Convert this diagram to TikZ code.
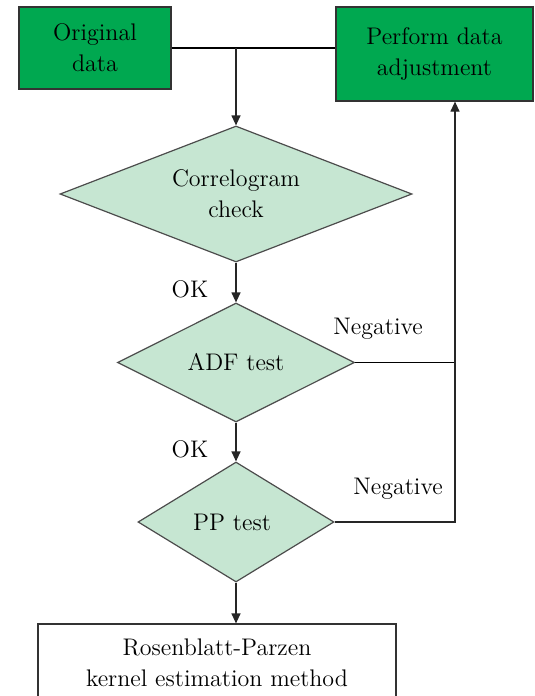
\documentclass[tikz,border=0pt]{standalone}
\usepackage{tikz}
\usetikzlibrary{shapes.geometric,arrows.meta}
\definecolor{boxgreen}{RGB}{0,168,80}
\definecolor{testgreen}{RGB}{198,230,210}
\begin{document}
\begin{tikzpicture}[x=0.5pt,y=-0.5pt,
	font=\fontsize{12}{15.5}\selectfont, line width=0.6pt,
	databox/.style={rectangle, draw=black!80, fill=boxgreen, inner sep=0pt, align=center},
	testnode/.style={diamond, shape aspect=2.6, draw=black!70, fill=testgreen, inner sep=0pt, align=center},
	flow/.style={-{Triangle[length=5pt,width=4.5pt]}, draw=black!85}]
		\useasboundingbox (0,0) rectangle (535,696);
		\clip (0,0) rectangle (535,696);
		% boxes
		\node[databox, minimum width=76pt, minimum height=41pt] (orig) at (95,48) {Original\\data};
		\node[databox, minimum width=98.5pt, minimum height=47pt] (adjust) at (434.5,54) {Perform data\\adjustment};
		\node[rectangle, draw=black!80, fill=white, minimum width=179pt, minimum height=39pt, align=center] (method) at (217,663) {Rosenblatt-Parzen\\kernel estimation method};
		% tests
		\foreach \y/\w/\h/\alph/\name in {
			194/176pt/68pt/corr/{Correlogram\\check},
			362.5/118.5pt/59.5pt/adf/{ADF test},
			522/98pt/60pt/pp/{PP test}
		}{
			\node[testnode, minimum width=\w, minimum height=\h] (\alph) at (236,\y) {\name};
		}
		% labels
		\node (ok1) at (190,289) {OK};
		\node (ok2) at (190,449) {OK};
		\node (neg1) at (378,329) {Negative};
		\node (neg2) at (398,489) {Negative};
		% connectors
		\coordinate (back) at (455,522);
		\draw (orig.east) -- (orig.east -| adjust.west);
		\draw[flow] (orig.east -| corr.north) -- (corr.north);
		\draw[flow] (corr.south) -- (adf.north);
		\draw[flow] (adf.south) -- (pp.north);
		\draw[flow] (pp.south) -- (pp.south |- method.north);
		\draw (adf.east) -- (adf.east -| back);
		\draw[flow] (pp.east) -- (back) -- (back |- adjust.south);
	\end{tikzpicture}
\end{document}
